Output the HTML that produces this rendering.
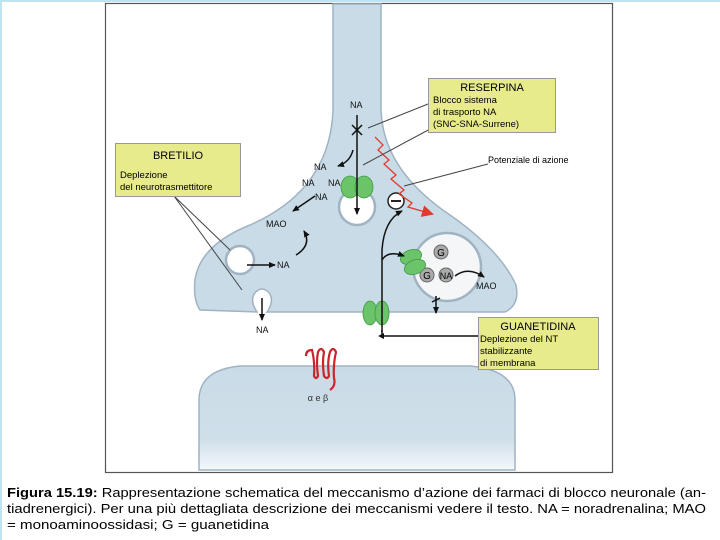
<!DOCTYPE html>
<html><head><meta charset="utf-8"><style>
html,body{margin:0;padding:0;background:#fff;}
svg{display:block;}
text{font-family:"Liberation Sans",sans-serif;}
</style></head><body>
<svg width="720" height="540" viewBox="0 0 720 540" xmlns="http://www.w3.org/2000/svg">
<defs>
<linearGradient id="fade" x1="0" y1="0" x2="0" y2="1">
<stop offset="0" stop-color="#c9dbe7"/><stop offset="0.7" stop-color="#cfdfea"/><stop offset="1" stop-color="#f4f8fb"/>
</linearGradient>
<marker id="ah" markerWidth="8" markerHeight="8" refX="6" refY="4" orient="auto" markerUnits="userSpaceOnUse"><path d="M0,1 L7,4 L0,7 Z" fill="#111"/></marker>
<marker id="rh" markerWidth="14" markerHeight="12" refX="10" refY="6" orient="auto" markerUnits="userSpaceOnUse"><path d="M0,0 L12,6 L0,12 Z" fill="#e23a2c"/></marker>
</defs>
<rect x="0" y="0" width="720" height="540" fill="#fff"/>
<rect x="0" y="0" width="720" height="2" fill="#bfe3f0"/>
<rect x="0" y="0" width="2" height="540" fill="#bfe3f0"/>
<rect x="105.5" y="3.5" width="507" height="469" fill="#fff" stroke="#555" stroke-width="1.2"/>

<!-- postsynaptic cell -->
<path d="M199,470 L199,400 Q199,370 240,366 L470,366 Q515,370 515,400 L515,470 Z" fill="url(#fade)" stroke="#9fb3c2" stroke-width="1.5"/>

<!-- presynaptic neuron -->
<path d="M333,4 L333,110 Q330,190 250,225 Q200,245 195,280 Q193,300 200,310 L257,312 Q250,302 254,294 Q262,284 270,294 Q274,302 267,312 L505,312 Q520,305 516,285 Q500,250 450,215 Q383,170 381,110 L381,4 Z" fill="#c9dbe7" stroke="#9fb3c2" stroke-width="1.5"/>

<!-- vesicles -->
<circle cx="357" cy="207" r="18" fill="#fff" stroke="#9fb3c2" stroke-width="2.5"/>
<circle cx="240" cy="260" r="14" fill="#fff" stroke="#9fb3c2" stroke-width="2.5"/>
<circle cx="447" cy="267" r="34" fill="#f4f6f8" stroke="#9fb3c2" stroke-width="2.5"/>
<circle cx="441" cy="252" r="7" fill="#aaa" stroke="#666"/><text x="441" y="256" font-size="10" text-anchor="middle">G</text>
<circle cx="427" cy="275" r="7" fill="#aaa" stroke="#666"/><text x="427" y="279" font-size="10" text-anchor="middle">G</text>
<circle cx="446" cy="275" r="7" fill="#aaa" stroke="#666"/><text x="446" y="279" font-size="9" text-anchor="middle">NA</text>

<!-- green transporters -->
<g fill="#6cc46a" stroke="#3d9a43" stroke-width="0.8">
<ellipse cx="350" cy="187" rx="9" ry="11"/><ellipse cx="364" cy="187" rx="9" ry="11"/>
<ellipse cx="411" cy="257" rx="11" ry="7" transform="rotate(-20 411 257)"/><ellipse cx="415" cy="267" rx="11" ry="7" transform="rotate(-20 415 267)"/>
<ellipse cx="370" cy="313" rx="7" ry="12"/><ellipse cx="382" cy="313" rx="7" ry="12"/>
</g>

<!-- minus -->
<circle cx="396" cy="201" r="8" fill="#fff" stroke="#222" stroke-width="1.5"/>
<line x1="391" y1="201" x2="401" y2="201" stroke="#222" stroke-width="2"/>

<!-- red zigzag -->
<path d="M375,137 L383,145 L378,150 L389,160 L384,164 L396,175 L391,179 L404,190 L399,194 L412,203 L408,207 L432,214" fill="none" stroke="#e23a2c" stroke-width="1.3" marker-end="url(#rh)"/>

<!-- arrows -->
<g stroke="#111" stroke-width="1.5" fill="none">
<line x1="357" y1="115" x2="357" y2="214" marker-end="url(#ah)"/>
<line x1="352" y1="125" x2="362" y2="135"/><line x1="362" y1="125" x2="352" y2="135"/>
<path d="M353,150 Q350,162 338,166" marker-end="url(#ah)"/>
<line x1="315" y1="196" x2="293" y2="211" marker-end="url(#ah)"/>
<path d="M296,255 Q312,245 304,231" marker-end="url(#ah)"/>
<line x1="247" y1="265" x2="275" y2="265" marker-end="url(#ah)"/>
<line x1="262" y1="298" x2="262" y2="320" marker-end="url(#ah)"/>
<path d="M382,332 L382,250 Q384,220 402,211" marker-end="url(#ah)"/>
<path d="M382,260 Q388,250 404,256" marker-end="url(#ah)"/>
<path d="M455,276 Q468,266 484,277" marker-end="url(#ah)"/>
<line x1="436" y1="296" x2="436" y2="313" marker-end="url(#ah)"/>
<line x1="432" y1="302" x2="440" y2="298"/>
<path d="M382,330 L382,336 L478,336" />
</g>
<path d="M378,336 L384,333 L384,339 Z" fill="#111"/>

<!-- callout lines -->
<g stroke="#444" stroke-width="1" fill="none">
<line x1="368" y1="128" x2="428" y2="104"/>
<line x1="363" y1="165" x2="432" y2="128"/>
<line x1="404" y1="186" x2="488" y2="164"/>
<line x1="174" y1="196" x2="230" y2="250"/>
<line x1="174" y1="196" x2="242" y2="290"/>
</g>

<!-- NA labels -->
<g font-size="9" fill="#111">
<text x="350" y="108">NA</text>
<text x="314" y="170">NA</text>
<text x="302" y="186">NA</text>
<text x="328" y="186">NA</text>
<text x="315" y="200">NA</text>
<text x="266" y="227">MAO</text>
<text x="277" y="268">NA</text>
<text x="256" y="333">NA</text>
<text x="476" y="289">MAO</text>
</g>

<!-- boxes -->
<rect x="428.5" y="78.5" width="127" height="54" fill="#e7eb8c" stroke="#999" />
<text x="492" y="91" font-size="11" text-anchor="middle">RESERPINA</text>
<text x="433" y="103" font-size="9.5">Blocco sistema</text>
<text x="433" y="115" font-size="9.5">di trasporto NA</text>
<text x="433" y="127" font-size="9.5">(SNC-SNA-Surrene)</text>
<text x="488" y="163" font-size="9">Potenziale di azione</text>

<rect x="115.5" y="143.5" width="125" height="53" fill="#e7eb8c" stroke="#999" />
<text x="178" y="159" font-size="11" text-anchor="middle">BRETILIO</text>
<text x="120" y="178" font-size="9.5">Deplezione</text>
<text x="120" y="190" font-size="9.5">del neurotrasmettitore</text>

<rect x="478.5" y="317.5" width="120" height="52" fill="#e7eb8c" stroke="#999" />
<text x="538" y="330" font-size="11" text-anchor="middle">GUANETIDINA</text>
<text x="480" y="342" font-size="9.5">Deplezione del NT</text>
<text x="480" y="354" font-size="9.5">stabilizzante</text>
<text x="480" y="366" font-size="9.5">di membrana</text>

<!-- receptor -->
<path d="M306,356 Q306,350 312,350 Q315,362 314,376 Q316,380 318,376 Q316,362 318,352 Q321,346 324,352 Q322,362 324,376 Q327,380 329,376 Q327,362 330,352 Q333,346 336,352 Q333,365 334,378 Q336,386 330,390" fill="none" stroke="#c8262a" stroke-width="2.2"/>
<text x="318" y="401" font-size="9" text-anchor="middle" fill="#333">α e β</text>

<!-- caption -->
<text x="7" y="497" font-size="13" textLength="699" lengthAdjust="spacingAndGlyphs"><tspan font-weight="bold">Figura 15.19:</tspan> Rappresentazione schematica del meccanismo d’azione dei farmaci di blocco neuronale (an-</text>
<text x="7" y="513" font-size="13" textLength="699" lengthAdjust="spacingAndGlyphs">tiadrenergici). Per una più dettagliata descrizione dei meccanismi vedere il testo. NA = noradrenalina; MAO</text>
<text x="7" y="529" font-size="13" textLength="262" lengthAdjust="spacingAndGlyphs">= monoaminoossidasi; G = guanetidina</text>
</svg>
</body></html>
